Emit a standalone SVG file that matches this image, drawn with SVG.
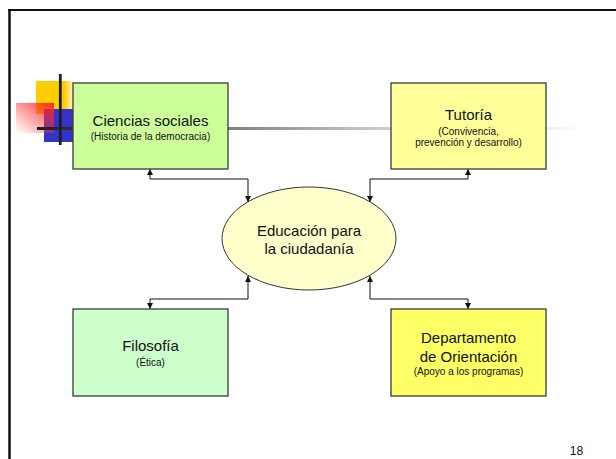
<svg xmlns="http://www.w3.org/2000/svg" width="616" height="459" viewBox="0 0 616 459">
<style>
.box{stroke:#3a3a3a;stroke-width:1.3}
.t{font-family:"Liberation Sans",Arial,sans-serif;fill:#111;text-anchor:middle}
.h{font-size:15px}
.s{font-size:10px}
.c{fill:none;stroke:#111;stroke-width:1}
</style>
<defs>
<marker id="ah" viewBox="0 0 10 10" refX="10" refY="5" markerWidth="6" markerHeight="6" markerUnits="userSpaceOnUse" orient="auto-start-reverse">
<path d="M0,0 L10,5 L0,10 z" fill="#111"/>
</marker>
<linearGradient id="gl" gradientUnits="userSpaceOnUse" x1="37" y1="0" x2="582" y2="0">
<stop offset="0" stop-color="#1e1e1e"/>
<stop offset="0.35" stop-color="#808080"/>
<stop offset="0.65" stop-color="#d0d0d0"/>
<stop offset="0.93" stop-color="#eeeeee"/>
<stop offset="1" stop-color="#ffffff"/>
</linearGradient>
<linearGradient id="gy" x1="0" y1="0" x2="1" y2="0">
<stop offset="0" stop-color="#ffcc00"/>
<stop offset="0.7" stop-color="#ffcc00"/>
<stop offset="1" stop-color="#ffcc00" stop-opacity="0"/>
</linearGradient>
<linearGradient id="gr" x1="1" y1="0" x2="0" y2="1">
<stop offset="0" stop-color="#ff2020" stop-opacity="0.95"/>
<stop offset="1" stop-color="#ff4040" stop-opacity="0"/>
</linearGradient>
</defs>
<rect width="616" height="459" fill="#fff"/>
<g id="frame">
<line x1="8" y1="10" x2="616" y2="10" stroke="#111" stroke-width="2.2"/>
<line x1="9.5" y1="9" x2="9.5" y2="459" stroke="#111" stroke-width="2.5"/>
</g>
<g id="decor">
<rect x="36" y="81" width="40" height="33" fill="url(#gy)"/>
<rect x="44" y="109" width="32" height="33" fill="#3333cc"/>
<rect x="16" y="103" width="38" height="30" fill="url(#gr)"/>
<line x1="37" y1="128.5" x2="582" y2="128.5" stroke="url(#gl)" stroke-width="3"/>
<line x1="60.3" y1="74" x2="60.3" y2="145" stroke="#1e1e1e" stroke-width="2.8"/>
</g>
<g id="connectors">
<path class="c" d="M150,169 V179 H248 V202" marker-start="url(#ah)" marker-end="url(#ah)"/>
<path class="c" d="M468,169 V179 H370 V202" marker-start="url(#ah)" marker-end="url(#ah)"/>
<path class="c" d="M248,276 V299 H150 V309" marker-start="url(#ah)" marker-end="url(#ah)"/>
<path class="c" d="M370,276 V299 H468 V309" marker-start="url(#ah)" marker-end="url(#ah)"/>
</g>
<g id="ciencias">
<rect class="box" x="73" y="83" width="155" height="86" fill="#ccff99"/>
<text class="t h" x="150.5" y="126">Ciencias sociales</text>
<text class="t s" x="150.5" y="140">(Historia de la democracia)</text>
</g>
<g id="tutoria">
<rect class="box" x="391" y="83" width="155" height="86" fill="#ffff99"/>
<text class="t h" x="468.5" y="120">Tutoría</text>
<text class="t s" x="468.5" y="135">(Convivencia,</text>
<text class="t s" x="468.5" y="145.5">prevención y desarrollo)</text>
</g>
<g id="educacion">
<ellipse cx="309" cy="238.5" rx="87" ry="51.5" fill="#ffffcc" stroke="#333" stroke-width="1"/>
<text class="t h" x="309" y="236">Educación para</text>
<text class="t h" x="309" y="254">la ciudadanía</text>
</g>
<g id="filosofia">
<rect class="box" x="73" y="309" width="155" height="87" fill="#ccffcc"/>
<text class="t h" x="150.5" y="351">Filosofía</text>
<text class="t s" x="150.5" y="366">(Ética)</text>
</g>
<g id="departamento">
<rect class="box" x="391" y="309" width="155" height="87" fill="#ffff66"/>
<text class="t h" x="468.5" y="343">Departamento</text>
<text class="t h" x="468.5" y="361.5">de Orientación</text>
<text class="t s" x="468.5" y="375">(Apoyo a los programas)</text>
</g>
<text class="t" x="576.5" y="455" font-size="12" fill="#333">18</text>
</svg>
